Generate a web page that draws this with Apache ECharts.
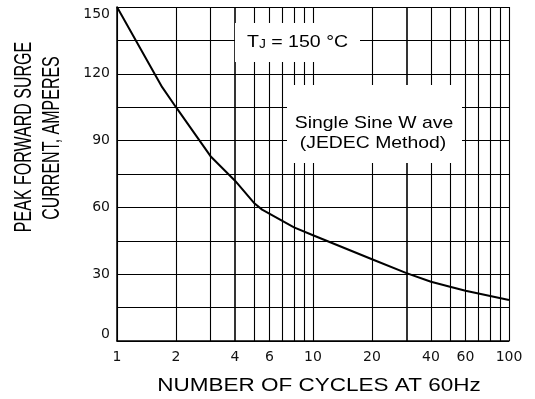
<!DOCTYPE html>
<html>
<head>
<meta charset="utf-8">
<script src="https://cdn.jsdelivr.net/npm/echarts@6/dist/echarts.min.js"></script>
<style>
  html, body { margin: 0; padding: 0; background: #fff; }
  #main { width: 535px; height: 399px; }
</style>
</head>
<body>
<div id="main"></div>
<script>
// surge curve
const cycles = [1, 1.7, 2, 3, 4, 5, 5.5, 8, 10, 20, 30, 40, 50, 60, 100];
const current = [150, 114, 105, 83, 72, 62, 59, 51, 47.5, 36.7, 30.5, 26.6, 24.4, 22.6, 18.4];

// tick labels on the log axis and the in-between grid lines
const cycleLabels = [1, 2, 4, 6, 10, 20, 40, 60, 100];
const minorCycles = [2, 3, 4, 5, 6, 7, 8, 9, 20, 30, 40, 50, 60, 70, 80, 90];
const heavyCycles = [4, 30];

const chart = echarts.init(document.getElementById('main'));

const gridLines = minorCycles.map(c => ({
  xAxis: c,
  lineStyle: { width: heavyCycles.includes(c) ? 1.6 : 1.1 }
}));

const option = {
  animation: false,
  backgroundColor: '#fff',
  grid: { left: 117, right: 26, top: 7, bottom: 58 },
  xAxis: {
    type: 'log',
    logBase: 10,
    min: 1,
    max: 100,
    axisLine: { show: true, lineStyle: { color: '#000', width: 1.5 } },
    axisTick: { show: false },
    axisLabel: {
      customValues: cycleLabels,
      formatter: v => String(v),
      color: '#111',
      fontFamily: 'DejaVu Sans',
      fontSize: 14,
      margin: 9
    },
    splitLine: { show: true, lineStyle: { color: '#000', width: 1.1 } },
    minorTick: { show: false },
    minorSplitLine: { show: false }
  },
  yAxis: {
    type: 'value',
    min: 0,
    max: 150,
    interval: 15,
    axisLine: { show: true, lineStyle: { color: '#000', width: 1.5 } },
    axisTick: { show: false },
    axisLabel: {
      formatter: v => (v % 30 === 0 ? String(v) : ''),
      color: '#111',
      fontFamily: 'DejaVu Sans',
      fontSize: 14,
      margin: 7,
      verticalAlignMaxLabel: 'top',
      verticalAlignMinLabel: 'bottom'
    },
    splitLine: { show: true, lineStyle: { color: '#000', width: 1.1 } }
  },
  series: [
    {
      type: 'line',
      data: cycles.map((c, i) => [c, current[i]]),
      showSymbol: false,
      lineStyle: { color: '#000', width: 2 },
      z: 5,
      markLine: {
        silent: true,
        symbol: 'none',
        label: { show: false },
        lineStyle: { color: '#000', type: 'solid', width: 1.1 },
        data: gridLines,
        z: 1
      }
    }
  ],
  graphic: [
    // white boxes that interrupt the grid behind the notes
    { type: 'rect', shape: { x: 235, y: 23, width: 125, height: 39 }, style: { fill: '#fff' }, z: 50 },
    { type: 'rect', shape: { x: 287, y: 85, width: 175, height: 78 }, style: { fill: '#fff' }, z: 50 },
    {
      type: 'text', x: 247, y: 42, z: 60, scaleX: 1.15,
      style: {
        text: '{a|T}{s|J}{a| = 150 °C}',
        verticalAlign: 'middle',
        align: 'left',
        rich: {
          a: { fontFamily: 'Liberation Sans', fontSize: 17, lineHeight: 17, fill: '#000' },
          s: { fontFamily: 'Liberation Sans', fontSize: 12, lineHeight: 12, fill: '#000', verticalAlign: 'bottom' }
        }
      }
    },
    {
      type: 'text', x: 374, y: 123, z: 60, scaleX: 1.14,
      style: { text: 'Single Sine W ave', fontFamily: 'Liberation Sans', fontSize: 17, fill: '#000', align: 'center', verticalAlign: 'middle' }
    },
    {
      type: 'text', x: 373, y: 143, z: 60, scaleX: 1.14,
      style: { text: '(JEDEC Method)', fontFamily: 'Liberation Sans', fontSize: 17, fill: '#000', align: 'center', verticalAlign: 'middle' }
    },
    // axis titles
    {
      type: 'text', x: 319, y: 386, z: 60, scaleX: 1.25,
      style: { text: 'NUMBER OF CYCLES AT 60Hz', fontFamily: 'Liberation Sans', fontSize: 18, fill: '#000', align: 'center', verticalAlign: 'middle' }
    },
    {
      type: 'text', x: 25, y: 137, z: 60, rotation: Math.PI / 2, scaleY: 1.45,
      style: { text: 'PEAK FORWARD SURGE', fontFamily: 'Liberation Sans', fontSize: 16, fill: '#000', align: 'center', verticalAlign: 'middle' }
    },
    {
      type: 'text', x: 53, y: 138, z: 60, rotation: Math.PI / 2, scaleY: 1.45,
      style: { text: 'CURRENT, AMPERES', fontFamily: 'Liberation Sans', fontSize: 16, fill: '#000', align: 'center', verticalAlign: 'middle' }
    }
  ]
};

chart.setOption(option);
</script>
</body>
</html>
